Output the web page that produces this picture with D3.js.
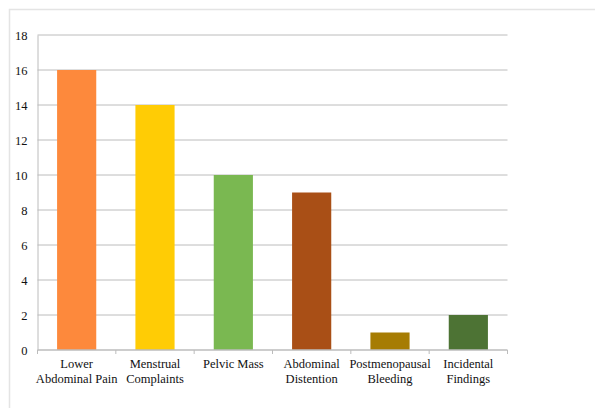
<!DOCTYPE html>
<html><head><meta charset="utf-8">
<script src="https://cdn.jsdelivr.net/npm/d3@7"></script>
<style>body{margin:0;background:#fff;} svg{display:block;} svg text{font-family:"Liberation Serif","Times New Roman",serif !important;}</style>
</head><body>
<script>
const categories = [["Lower","Abdominal Pain"],["Menstrual","Complaints"],["Pelvic Mass"],["Abdominal","Distention"],["Postmenopausal","Bleeding"],["Incidental","Findings"]];
const values = [16, 14, 10, 9, 1, 2];
const colors = ["#FD893C","#FFCC05","#7AB851","#A94F16","#A67C03","#4D7334"];
const yTicks = [0,2,4,6,8,10,12,14,16,18];

const W = 595, H = 408;
const svg = d3.select("body").append("svg").attr("width", W).attr("height", H);
svg.append("path").attr("d", `M9.5,${H}V9.5H${W}`).attr("fill","none").attr("stroke","#e4e4e4").attr("stroke-width",1.5);

const pLeft = 37.5, pRight = 507.5, pTop = 35, pBottom = 350;
const x = d3.scaleBand().domain(d3.range(categories.length)).range([pLeft, pRight]).paddingInner(0.5).paddingOuter(0.25);
const y = d3.scaleLinear().domain([0, 18]).range([pBottom, pTop]);

// gridlines
svg.append("g").selectAll("line").data(yTicks.filter(d => d > 0)).join("line")
  .attr("x1", pLeft).attr("x2", pRight).attr("y1", d => y(d)).attr("y2", d => y(d))
  .attr("stroke", "#bcbcbc").attr("stroke-width", 1);

// bars
svg.append("g").selectAll("rect").data(values).join("rect")
  .attr("x", (d, i) => x(i)).attr("width", x.bandwidth())
  .attr("y", d => y(d)).attr("height", d => y(0) - y(d))
  .attr("fill", (d, i) => colors[i]);

// y axis
const ya = svg.append("g").attr("transform", `translate(${pLeft},0)`)
  .call(d3.axisLeft(y).tickValues(yTicks).tickSize(0).tickPadding(10));
ya.select(".domain").attr("stroke", "#bcbcbc");
ya.selectAll("text").style("font-size", "12.5px").attr("fill", "#111");

// x axis
const xa = svg.append("g").attr("transform", `translate(0,${pBottom})`);
xa.append("line").attr("x1", pLeft).attr("x2", pRight).attr("stroke", "#bcbcbc").attr("stroke-width", 1.5);
const bounds = d3.range(categories.length + 1).map(i => pLeft + i * (pRight - pLeft) / categories.length);
xa.selectAll("line.tk").data(bounds).join("line").attr("class","tk")
  .attr("x1", d => d).attr("x2", d => d).attr("y1", 0).attr("y2", 4).attr("stroke", "#bcbcbc");
const lbl = xa.selectAll("text").data(categories).join("text")
  .attr("text-anchor", "middle").style("font-size", "12.5px").attr("fill", "#111")
  .attr("x", (d, i) => x(i) + x.bandwidth() / 2);
lbl.selectAll("tspan").data(d => d).join("tspan")
  .attr("x", function(){ return this.parentNode.getAttribute("x"); })
  .attr("y", (d, j) => 18 + j * 14.5).text(d => d);
</script>
</body></html>
